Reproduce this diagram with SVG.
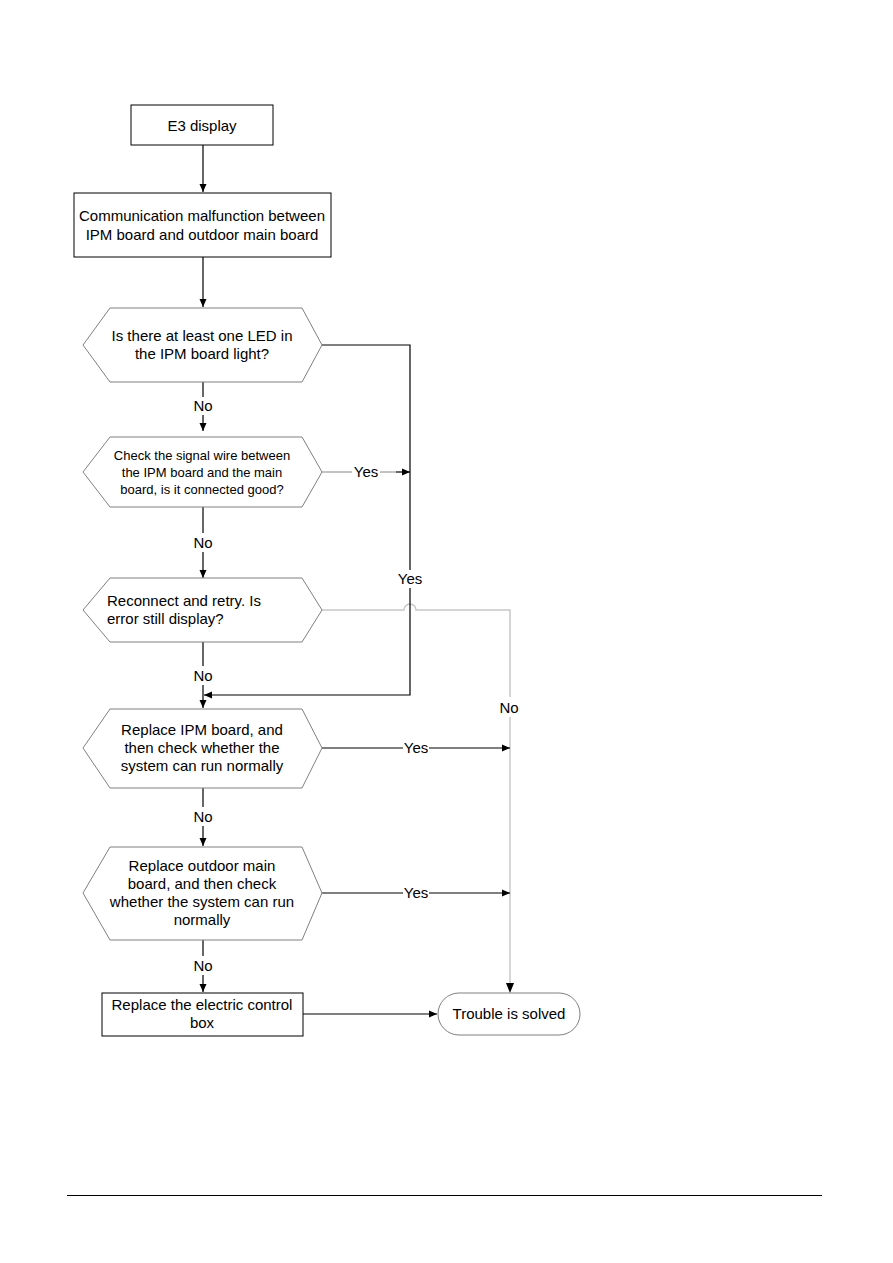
<svg xmlns="http://www.w3.org/2000/svg" width="893" height="1263" viewBox="0 0 893 1263">
<style>
.box{fill:#fff;stroke:#000;stroke-width:1}
.hex{fill:#fff;stroke:#808080;stroke-width:1}
.t{font-family:"Liberation Sans",Arial,sans-serif;font-size:15px;fill:#000;text-anchor:middle}
.s{font-size:13px}
.c{fill:none;stroke:#000;stroke-width:1.2}
.g{fill:none;stroke:#c8c8c8;stroke-width:1.5}
.lbl{font-family:"Liberation Sans",Arial,sans-serif;font-size:15px;fill:#000;text-anchor:middle}
</style>
<defs>
<marker id="a" markerWidth="10" markerHeight="10" refX="9" refY="5" orient="auto" markerUnits="userSpaceOnUse">
<path d="M1,1.5 L9,5 L1,8.5 Z" fill="#000"/>
</marker>
</defs>
<rect width="893" height="1263" fill="#fff"/>
<g id="connectors">
<line class="c" x1="203" y1="145" x2="203" y2="192" marker-end="url(#a)"/>
<line class="c" x1="203" y1="257" x2="203" y2="307" marker-end="url(#a)"/>
<line class="c" x1="203" y1="382" x2="203" y2="397"/>
<line class="c" x1="203" y1="415" x2="203" y2="431" marker-end="url(#a)"/>
<path class="g" d="M322,610 L404,610 A6,6 0 0 1 416,610 L510,610 L510,697"/>
<path class="g" d="M510,717 L510,985"/>
<path d="M506,983 L510,993 L514,983 Z" fill="#000"/>
<polyline class="c" points="322,345 410,345 410,570"/>
<path class="c" d="M410,588 L410,695 L204,695" marker-end="url(#a)"/>
<line stroke="#999" stroke-width="1.2" x1="322" y1="472" x2="352" y2="472"/>
<line stroke="#999" stroke-width="1.2" x1="380" y1="472" x2="396" y2="472"/>
<line class="c" x1="396" y1="472" x2="410" y2="472" marker-end="url(#a)"/>
<line class="c" x1="203" y1="507" x2="203" y2="533"/>
<line class="c" x1="203" y1="552" x2="203" y2="578" marker-end="url(#a)"/>
<line class="c" x1="203" y1="642" x2="203" y2="666"/>
<line class="c" x1="203" y1="685" x2="203" y2="708" marker-end="url(#a)"/>
<line class="c" x1="322" y1="748" x2="403" y2="748"/>
<line class="c" x1="429" y1="748" x2="510" y2="748" marker-end="url(#a)"/>
<line class="c" x1="203" y1="788" x2="203" y2="807"/>
<line class="c" x1="203" y1="826" x2="203" y2="846" marker-end="url(#a)"/>
<line class="c" x1="322" y1="893" x2="403" y2="893"/>
<line class="c" x1="429" y1="893" x2="510" y2="893" marker-end="url(#a)"/>
<line class="c" x1="203" y1="940" x2="203" y2="956"/>
<line class="c" x1="203" y1="975" x2="203" y2="992" marker-end="url(#a)"/>
<line class="c" x1="303" y1="1014" x2="437" y2="1014" marker-end="url(#a)"/>
<text class="lbl" x="203" y="411">No</text>
<text class="lbl" x="366" y="477">Yes</text>
<text class="lbl" x="203" y="548">No</text>
<text class="lbl" x="410" y="584">Yes</text>
<text class="lbl" x="203" y="681">No</text>
<text class="lbl" x="509" y="713">No</text>
<text class="lbl" x="416" y="753">Yes</text>
<text class="lbl" x="203" y="822">No</text>
<text class="lbl" x="416" y="898">Yes</text>
<text class="lbl" x="203" y="971">No</text>
</g>
<g id="n1">
<rect class="box" x="131" y="105" width="142" height="40"/>
<text class="t" x="202" y="131">E3 display</text>
</g>
<g id="n2">
<rect class="box" x="74" y="193" width="257" height="64"/>
<text class="t" x="202" y="221">Communication malfunction between</text>
<text class="t" x="202" y="240">IPM board and outdoor main board</text>
</g>
<g id="n3">
<polygon class="hex" points="83,345 110,308 302,308 322,345 302,382 110,382"/>
<text class="t" x="202" y="341">Is there at least one LED in</text>
<text class="t" x="202" y="359">the IPM board light?</text>
</g>
<g id="n4">
<polygon class="hex" points="83,472 110,437 302,437 322,472 302,507 110,507"/>
<text class="t s" x="202" y="460">Check the signal wire between</text>
<text class="t s" x="202" y="477">the IPM board and the main</text>
<text class="t s" x="202" y="494">board, is it connected good?</text>
</g>
<g id="n5">
<polygon class="hex" points="83,610 110,578 302,578 322,610 302,642 110,642"/>
<text class="t" x="107" y="606" style="text-anchor:start">Reconnect and retry. Is</text>
<text class="t" x="107" y="624" style="text-anchor:start">error still display?</text>
</g>
<g id="n6">
<polygon class="hex" points="83,748 110,709 302,709 322,748 302,788 110,788"/>
<text class="t" x="202" y="735">Replace IPM board, and</text>
<text class="t" x="202" y="753">then check whether the</text>
<text class="t" x="202" y="771">system can run normally</text>
</g>
<g id="n7">
<polygon class="hex" points="83,893 110,847 302,847 322,893 302,940 110,940"/>
<text class="t" x="202" y="871">Replace outdoor main</text>
<text class="t" x="202" y="889">board, and then check</text>
<text class="t" x="202" y="907">whether the system can run</text>
<text class="t" x="202" y="925">normally</text>
</g>
<g id="n8">
<rect class="box" x="102" y="993" width="201" height="43"/>
<text class="t" x="202" y="1010">Replace the electric control</text>
<text class="t" x="202" y="1028">box</text>
</g>
<g id="n9">
<rect x="438" y="993" width="142" height="42" rx="21" ry="21" fill="#fff" stroke="#808080" stroke-width="1"/>
<text class="t" x="509" y="1019">Trouble is solved</text>
</g>
<line x1="67" y1="1195.5" x2="822" y2="1195.5" stroke="#000" stroke-width="1"/>
</svg>
